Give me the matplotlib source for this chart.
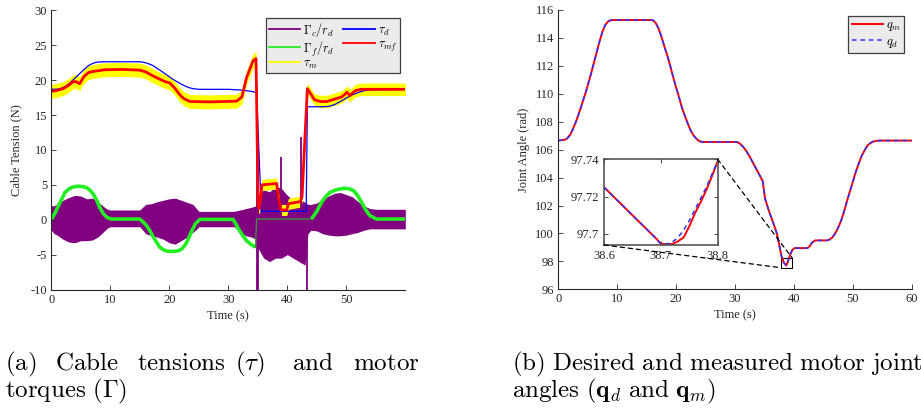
import matplotlib
matplotlib.use('Agg')
import matplotlib.pyplot as plt
from matplotlib.patches import Rectangle, ConnectionPatch
from matplotlib.lines import Line2D

plt.rcParams['mathtext.fontset'] = 'cm'
plt.rcParams['font.family'] = ['Liberation Serif', 'DejaVu Serif']
plt.rcParams['axes.unicode_minus'] = False

# ---------------- data (a) ----------------
# desired cable tension tau_d
td_t = [0, 1, 1.5, 2, 2.5, 3, 3.5, 4, 4.5, 5, 5.5, 6, 6.5, 7, 7.5, 8, 9, 15, 15.5, 16, 16.5, 17,
        17.5, 18, 18.5, 19, 19.5, 20, 20.5, 21, 21.5, 22, 22.5, 23, 23.5, 24, 25, 30, 32, 34, 34.8,
        35.6, 43.2, 43.4, 46, 47, 48, 49, 50, 51, 52, 53, 54, 60]
td_v = [18.7, 18.72, 18.8, 18.95, 19.2, 19.5, 19.9, 20.3, 20.7, 21.1, 21.5, 21.9, 22.2, 22.4,
        22.55, 22.62, 22.65, 22.65, 22.6, 22.5, 22.35, 22.2, 21.95, 21.65, 21.4, 21.1, 20.8, 20.5,
        20.2, 19.95, 19.7, 19.45, 19.25, 19.05, 18.9, 18.8, 18.7, 18.7, 18.6, 18.4, 18.2,
        1.2, 1.2, 16.2, 16.2, 16.25, 16.5, 16.95, 17.45, 17.9, 18.25, 18.5, 18.62, 18.7]

# filtered measured tension tau_mf
tmf_t = [0, 1, 2, 3, 3.7, 4.2, 4.8, 5.5, 6.3, 7, 8.25, 9, 12, 15, 16, 17.3, 18.5, 19.3, 20.1, 20.9,
         21.7, 22.4, 23.5, 27, 31.4, 32.3, 33.1, 34.2, 34.7, 35.05, 35.3, 35.7, 38.2, 38.5, 38.9,
         39.9, 40.2, 42.2, 42.5, 43.4, 44.6, 45.6, 46.7, 48.4, 49.2, 49.8, 50.1, 50.6, 51.5, 52.5, 60]
tmf_v = [18.4, 18.55, 18.8, 19.3, 19.8, 19.8, 19.5, 20.5, 21.1, 21.25, 21.4, 21.5, 21.55, 21.45,
         21.2, 20.6, 20.1, 19.8, 19.6, 18.9, 18.0, 17.4, 16.95, 16.9, 17.0, 17.6, 20.4, 22.8, 23.1,
         2.0, 1.6, 5.0, 5.2, 3.2, 1.4, 1.4, 2.3, 2.6, 3.3, 18.8, 17.2, 16.95, 16.95, 17.4, 17.6, 18.0,
         18.3, 17.8, 18.5, 18.7, 18.7]
# spread of the raw measured tension tau_m around tau_mf
tm_spread = [1.0] * 29 + [0.8] * 12 + [0.9] * 10

# friction torque Gamma_f / r_d
gf_t = [0, 0.6, 1.2, 1.8, 2.3, 2.9, 3.4, 4.0, 4.6, 5.3, 6.0, 6.6, 7.1, 7.7, 8.2, 8.8, 9.4, 10.2,
        15, 15.6, 16.2, 16.8, 17.3, 17.9, 18.4, 19.0, 19.6, 20.7, 21.5, 22.1, 22.7, 23.2, 23.8, 24.4,
        25.2, 30.8, 31.2, 31.7, 32.4, 33.1, 33.8, 34.6]
gf_v = [0.1, 0.9, 2.0, 3.0, 3.9, 4.35, 4.6, 4.75, 4.8, 4.75, 4.6, 4.2, 3.7, 2.8, 1.8, 0.9, 0.35, 0.1,
        0.1, -0.35, -0.9, -1.7, -2.5, -3.3, -3.95, -4.3, -4.5, -4.55, -4.45, -4.2, -3.6, -2.8, -1.6,
        -0.6, 0.05, 0.05, -0.5, -1.3, -2.2, -3.0, -3.5, -3.95]
gf2_t = [34.6, 34.8, 44.1]
gf2_v = [-3.95, 0.1, 0.1]
gf3_t = [44.1, 45.0, 45.8, 46.5, 47.2, 48.3, 49.5, 50.4, 51.2, 51.9, 52.6, 53.3, 54.0, 55.1, 60]
gf3_v = [0.1, 1.2, 2.5, 3.3, 3.9, 4.3, 4.5, 4.45, 4.2, 3.5, 2.5, 1.4, 0.6, 0.1, 0.1]

# control torque Gamma_c / r_d (noise envelope)
gc_t = [0, 0.5, 1, 2, 3, 4, 5, 6, 7, 8, 9, 9.5, 10, 15, 15.5, 16, 17, 18, 19, 20, 21, 22, 23, 24,
        24.7, 25, 31, 32, 33, 34, 34.7, 35, 36, 37, 38, 39, 40, 41, 42, 43, 43.5, 44, 45, 46, 47,
        48, 49, 50, 51, 52, 53, 54, 55, 60]
gc_hi = [2.0, 2.0, 2.3, 2.8, 3.2, 3.5, 3.4, 3.0, 3.1, 2.5, 1.8, 1.5, 1.4, 1.4, 1.8, 2.2, 2.3, 2.6,
         2.8, 3.0, 3.1, 2.8, 2.5, 2.2, 1.5, 1.2, 1.2, 1.4, 1.6, 1.8, 2.0, 3.5, 4.3, 4.0, 4.8, 4.5,
         3.5, 2.8, 3.0, 2.5, 2.2, 2.2, 2.4, 3.0, 3.4, 3.8, 3.9, 3.6, 3.3, 2.6, 2.0, 1.6, 1.5, 1.5]
gc_lo = [-1.5, -2.0, -2.2, -2.8, -3.2, -3.3, -3.0, -3.0, -2.9, -2.4, -1.6, -1.2, -1.0, -1.0, -1.5,
         -2.0, -2.3, -2.5, -2.8, -3.3, -3.5, -3.0, -2.5, -1.8, -1.3, -1.0, -1.0, -1.8, -2.3, -2.5,
         -2.8, -4.0, -5.5, -6.0, -5.5, -5.5, -5.0, -5.5, -6.0, -6.5, -2.0, -1.5, -1.6, -2.0, -2.2,
         -2.3, -2.3, -2.2, -2.0, -1.8, -1.5, -1.3, -1.3, -1.3]
spike_t = [34.8, 34.95, 38.9, 42.3, 43.3]
spike_lo = [-10, -10, 0, 0, -10]
spike_hi = [19.0, 10.0, 9.0, 11.8, -2.0]

# ---------------- data (b) ----------------
q_t = [0, 1, 1.5, 2, 2.5, 3, 3.5, 4, 4.5, 5, 5.5, 6, 6.5, 7, 7.5, 8, 8.5, 9,
       16, 16.5, 17, 17.5, 18, 18.5, 19, 19.5, 20, 20.5, 21, 21.5, 22, 22.5, 23, 23.5, 24, 24.5,
       30.3, 30.8, 31.4, 32, 32.5, 33, 33.7, 34.2, 34.7, 35.1, 35.5, 35.9, 36.5, 37.1, 37.5, 37.9,
       38.3, 38.7, 39.0, 39.3, 39.7, 40.1, 42.3, 42.7, 43.1, 43.6,
       45.6, 46, 46.5, 47, 47.5, 48, 48.5, 49, 49.5, 50, 50.5, 51, 51.5, 52, 52.5, 53, 53.5, 54,
       54.5, 60]
q_m = [106.65, 106.7, 106.8, 107.05, 107.5, 108.0, 108.6, 109.25, 109.9, 110.6, 111.35, 112.15,
       112.95, 113.75, 114.45, 114.95, 115.2, 115.28,
       115.28, 115.1, 114.7, 114.1, 113.4, 112.75, 112.0, 111.2, 110.45, 109.75, 109.0, 108.4,
       107.85, 107.35, 107.0, 106.75, 106.6, 106.55,
       106.55, 106.45, 106.2, 105.85, 105.5, 105.1, 104.55, 104.15, 103.75, 102.5, 101.95, 101.45,
       100.75, 100.0, 99.2, 98.35, 97.9, 97.7, 98.0, 98.4, 98.8, 98.95, 98.95, 99.1, 99.35, 99.5,
       99.5, 99.55, 99.7, 100.0, 100.4, 100.9, 101.55, 102.3, 103.0, 103.7, 104.4, 105.0, 105.55,
       105.95, 106.3, 106.48, 106.58, 106.63, 106.65, 106.65]
q_d = list(q_m)

in_t = [38.6, 38.62, 38.64, 38.66, 38.68, 38.69, 38.70, 38.71, 38.72, 38.73, 38.74, 38.75, 38.76,
        38.77, 38.78, 38.79, 38.80]
in_qm = [97.725, 97.719, 97.713, 97.707, 97.701, 97.698, 97.6947, 97.6945, 97.6945, 97.696,
         97.698, 97.704, 97.711, 97.717, 97.7235, 97.731, 97.739]
in_qd = [97.725, 97.719, 97.713, 97.707, 97.701, 97.698, 97.6947, 97.6945, 97.6955, 97.698,
         97.702, 97.707, 97.713, 97.719, 97.725, 97.732, 97.739]

# ---------------- figure ----------------
W, H = 921, 408
fig = plt.figure(figsize=(W / 100, H / 100), dpi=100)


def rect(x0, y0, x1, y1):
    return [x0 / W, 1 - y1 / H, (x1 - x0) / W, (y1 - y0) / H]


spc = '#262626'
purple, green, yellow, blue, red = '#800080', '#22ee22', '#ffff00', '#0000ff', '#ff0000'

ax1 = fig.add_axes(rect(51.3, 10.5, 405.3, 289.5))
ax1.fill_between(gc_t, gc_lo, gc_hi, color=purple, lw=0)
ax1.vlines(spike_t, spike_lo, spike_hi, color=purple, lw=1.3)
ax1.plot(gf_t, gf_v, color=green, lw=2.6, solid_capstyle='butt')
ax1.plot(gf2_t, gf2_v, color='#3f8f3f', lw=1.0)
ax1.plot(gf3_t, gf3_v, color=green, lw=2.6, solid_capstyle='butt')
tm_lo = [v - s for v, s in zip(tmf_v, tm_spread)]
tm_hi = [v + s for v, s in zip(tmf_v, tm_spread)]
ax1.fill_between(tmf_t, tm_lo, tm_hi, color=yellow, lw=0)
ax1.plot(td_t, td_v, color=blue, lw=0.9)
ax1.plot(tmf_t, tmf_v, color=red, lw=2.0)
ax1.set_xlim(0, 60)
ax1.set_ylim(-10, 30)
ax1.set_xticks(range(0, 60, 10))
ax1.set_yticks(range(-10, 31, 5))
ax1.set_xlabel('Time (s)', fontsize=9, labelpad=3)
ax1.set_ylabel('Cable Tension (N)', fontsize=9, labelpad=6)

handles1 = [Line2D([], [], color=purple, lw=1.3), Line2D([], [], color=green, lw=1.3),
            Line2D([], [], color=yellow, lw=1.3), Line2D([], [], color=blue, lw=1.3),
            Line2D([], [], color=red, lw=1.3)]
labels1 = [r'$\Gamma_c/r_d$', r'$\Gamma_f/r_d$', r'$\tau_m$', r'$\tau_d$', r'$\tau_{mf}$']
leg1 = ax1.legend(handles1, labels1, ncol=2, loc='upper right', bbox_to_anchor=(400 / W, 1 - 18.3 / H),
                  bbox_transform=fig.transFigure, fontsize=8.8, fancybox=False, framealpha=1,
                  facecolor='#ebebeb', edgecolor='#404040', borderpad=0.2, labelspacing=0.0,
                  handlelength=2.6, handletextpad=0.25, columnspacing=0.7, borderaxespad=0)
leg1.get_frame().set_linewidth(0.9)

ax2 = fig.add_axes(rect(558.3, 10, 911.7, 289.3))
l_qm, = ax2.plot(q_t, q_m, color=red, lw=1.4)
l_qd, = ax2.plot(q_t, q_d, color='#3030ff', lw=1.1, ls=(0, (3, 2.5)))
ax2.set_xlim(0, 60)
ax2.set_ylim(96, 116)
ax2.set_xticks(range(0, 61, 10))
ax2.set_yticks(range(96, 117, 2))
ax2.set_xlabel('Time (s)', fontsize=9, labelpad=3)
ax2.set_ylabel('Joint Angle (rad)', fontsize=9, labelpad=4)
leg2 = ax2.legend([l_qm, l_qd], [r'$q_m$', r'$q_d$'], loc='upper right',
                  bbox_to_anchor=(904 / W, 1 - 16 / H), bbox_transform=fig.transFigure,
                  fontsize=9, fancybox=False, framealpha=1, facecolor='#ebebeb',
                  edgecolor='#404040', borderpad=0.25, labelspacing=0.2, handlelength=2.5,
                  handletextpad=0.25, borderaxespad=0)
leg2.get_frame().set_linewidth(0.9)

# zoom rectangle
ax2.add_patch(Rectangle((37.75, 97.55), 2.0, 0.67, fill=False, ec='black', lw=0.8))

axin = fig.add_axes(rect(604, 159.3, 717.7, 245))
axin.plot(in_t, in_qm, color=red, lw=1.4)
axin.plot(in_t, in_qd, color='#3030ff', lw=1.1, ls=(0, (3, 2.5)))
axin.set_xlim(38.6, 38.8)
axin.set_ylim(97.694, 97.74)
axin.set_xticks([38.6, 38.7, 38.8])
axin.set_xticklabels(['38.6', '38.7', '38.8'])
axin.set_yticks([97.7, 97.72, 97.74])
axin.set_yticklabels(['97.7', '97.72', '97.74'])
axin.tick_params(direction='in', length=3, labelsize=9, colors=spc, top=True, right=True, width=0.6)
for s in axin.spines.values():
    s.set_color('#555555')
    s.set_linewidth(1.2)

for a, b in [((1, 1), (39.75, 98.22)), ((0, 0), (37.75, 97.55))]:
    cp = ConnectionPatch(xyA=a, coordsA=axin.transAxes, xyB=b, coordsB=ax2.transData,
                         color='black', lw=0.9, ls=(0, (3.5, 3)))
    fig.add_artist(cp)

for ax in (ax1, ax2):
    ax.spines['top'].set_visible(False)
    ax.spines['right'].set_visible(False)
    for s in ('left', 'bottom'):
        ax.spines[s].set_color(spc)
        ax.spines[s].set_linewidth(0.8)
    ax.tick_params(direction='in', length=3.5, width=0.6, labelsize=9, colors=spc, pad=3)
    ax.xaxis.label.set_color(spc)
    ax.yaxis.label.set_color(spc)

# captions
cap_fs = 18
words_a = [(5, r'$\mathrm{(a)}$'), (55, r'$\mathrm{Cable}$'), (136.7, r'$\mathrm{tensions}$'),
           (235, r'$(\tau)$'), (292, r'$\mathrm{and}$'), (353, r'$\mathrm{motor}$')]
for x, w in words_a:
    fig.text(x / W, 1 - 370 / H, w, fontsize=cap_fs, va='baseline', ha='left')
fig.text(5 / W, 1 - 397 / H, r'$\mathrm{torques\ (}\mathit{\Gamma}\mathrm{)}$', fontsize=cap_fs,
         va='baseline', ha='left')
fig.text(511.7 / W, 1 - 370 / H, r'$\mathrm{(b)\ Desired\ and\ measured\ motor\ joint}$',
         fontsize=cap_fs, va='baseline', ha='left')
fig.text(511.7 / W, 1 - 397 / H,
         r'$\mathrm{angles\ (}\mathbf{q}_d\mathrm{\ and\ }\mathbf{q}_m\mathrm{)}$',
         fontsize=cap_fs, va='baseline', ha='left')

fig.savefig('out.png', dpi=100)
